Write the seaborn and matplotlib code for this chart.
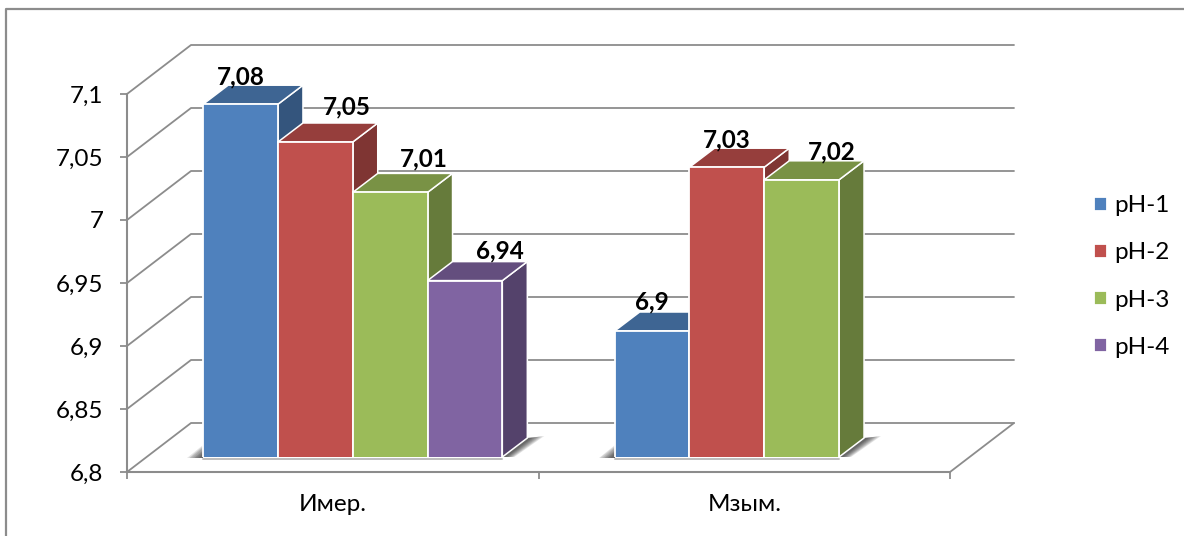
import matplotlib
matplotlib.use("Agg")
import numpy as np
import pandas as pd
import seaborn as sns
import matplotlib.pyplot as plt
from matplotlib.lines import Line2D
from matplotlib.patches import Polygon
from matplotlib.transforms import IdentityTransform

# Measurements by group and pH sample
group_names = ["Имер.", "Мзым."]
ph_names = ["pH-1", "pH-2", "pH-3", "pH-4"]
imer_values = [7.08, 7.05, 7.01, 6.94]
mzym_values = [6.9, 7.03, 7.02]
y_ticks = [6.8, 6.85, 6.9, 6.95, 7.0, 7.05, 7.1]
y_tick_labels = ["6,8", "6,85", "6,9", "6,95", "7", "7,05", "7,1"]
value_labels = ["7,08", "7,05", "7,01", "6,94", "6,9", "7,03", "7,02"]

ph_colors = ["#4F81BD", "#C0504D", "#9BBB59", "#8064A2"]
GRID = "#8C8C8C"
FONT = "Lato"
TEXT_SIZE = 17.5

W, H = 1184, 536
DPI = 100

# Pseudo-3D geometry, in pixels
WALL_DX, WALL_DY = 64, 49        # depth of the floor
PLANE_DX, PLANE_DY = 20, 15      # front face of the bars relative to the axis
BAR_DX, BAR_DY = 25, 19          # depth of a bar
# Hand placement of the value labels relative to each bar's top centre
label_dx = [0, 31, 34, 35, 0, 0, 30]
label_dy = [27, 35, 33, 30, 29, 27, 28]

sns.set_theme(style="white")
plt.rcParams["font.family"] = [FONT, "DejaVu Sans"]

rows = [(group_names[0], ph, v) for ph, v in zip(ph_names, imer_values)]
rows += [(group_names[1], ph, v) for ph, v in zip(ph_names, mzym_values)]
data = pd.DataFrame(rows, columns=["group", "ph", "value"])

fig = plt.figure(figsize=(W / DPI, H / DPI), dpi=DPI, facecolor="white")


def axes_box(left, top, right, bottom):
    return [left / W, 1 - bottom / H, (right - left) / W, (bottom - top) / H]


# Axis frame with ticks and labels
ax_frame = fig.add_axes(axes_box(127, 94, 950, 472))
ax_frame.set_xlim(-0.5, 1.5)
ax_frame.set_ylim(6.8, 7.1)
ax_frame.set_facecolor("none")
for side in ("top", "right"):
    ax_frame.spines[side].set_visible(False)
for side in ("left", "bottom"):
    ax_frame.spines[side].set_color(GRID)
    ax_frame.spines[side].set_linewidth(1.5)
ax_frame.set_yticks(y_ticks, y_tick_labels)
ax_frame.set_xticks([-0.5, 0.5, 1.5], ["", "", ""])
ax_frame.set_xticks([0, 1], group_names, minor=True)
ax_frame.tick_params(axis="both", which="major", length=5, width=1.3, color=GRID,
                     labelsize=TEXT_SIZE, labelcolor="black", left=True, bottom=True)
ax_frame.tick_params(axis="y", pad=12)
ax_frame.tick_params(axis="x", which="minor", length=0, pad=16, labelsize=TEXT_SIZE, labelcolor="black")

# Floor and back-wall lines, derived from the y scale
to_px = ax_frame.transData.transform
for tick in y_ticks:
    x0, y0 = to_px((-0.5, tick))
    x1, y1 = to_px((1.5, tick))
    xs = [x0, x0 + WALL_DX, x1 + WALL_DX]
    ys = [y0, y0 + WALL_DY, y0 + WALL_DY]
    ax_frame.add_line(Line2D(xs, ys, color=GRID, lw=1.3, transform=IdentityTransform(), clip_on=False))
x0, y0 = to_px((1.5, 6.8))
ax_frame.add_line(Line2D([x0, x0 + WALL_DX], [y0, y0 + WALL_DY], color=GRID, lw=1.3,
                         transform=IdentityTransform(), clip_on=False))

# Front faces of the bars
ax = fig.add_axes(axes_box(127 + PLANE_DX, 94 - PLANE_DY, 950 + PLANE_DX, 472 - PLANE_DY))
ax.set_facecolor("none")
sns.barplot(data=data, x="group", y="value", hue="ph", hue_order=ph_names, palette=ph_colors,
            saturation=1, width=0.727, gap=0, errorbar=None, order=group_names, ax=ax,
            edgecolor="white", linewidth=1.3)
ax.set_xlim(-0.5, 1.5)
ax.set_ylim(6.8, 7.1)
ax.set_xlabel("")
ax.set_ylabel("")
ax.set_xticks([])
ax.set_yticks([])
sns.despine(ax=ax, left=True, bottom=True)
fig.canvas.draw()

bars = [p for p in ax.patches if np.isfinite(p.get_height()) and p.get_height() > 0]
bars.sort(key=lambda p: p.get_x())
px = ax.transData.transform
ident = IdentityTransform()


def face(points, color, z):
    ax.add_patch(Polygon(points, closed=True, facecolor=color, edgecolor="white", linewidth=1.1,
                         transform=ident, clip_on=False, zorder=z))


def shade(color, factor):
    return tuple(c * factor for c in matplotlib.colors.to_rgb(color))


def soft_shadow(outer, inner, z, steps=8):
    # Stacked translucent polygons grow from the inner outline to the outer one
    outer, inner = np.asarray(outer, float), np.asarray(inner, float)
    for k in range(steps):
        t = (k + 1) / steps
        ax.add_patch(Polygon(inner + (outer - inner) * t, closed=True, facecolor="black",
                             edgecolor="none", alpha=0.1, transform=ident, clip_on=False, zorder=z))


# Shadows on the floor, one pair per group of bars
groups = [bars[:4], bars[4:]]
for group in groups:
    left_x, base = px((group[0].get_x(), 6.8))
    right_x, _ = px((group[-1].get_x() + group[-1].get_width(), 6.8))
    soft_shadow([(left_x - 16, base - 1), (left_x, base - 1), (left_x, base + 12)],
                [(left_x - 3, base - 1), (left_x, base - 1), (left_x, base + 3)], 2)
    soft_shadow([(right_x, base), (right_x + BAR_DX, base + BAR_DY), (right_x + BAR_DX + 17, base + BAR_DY + 2), (right_x + 12, base)],
                [(right_x, base), (right_x + BAR_DX, base + BAR_DY), (right_x + BAR_DX + 3, base + BAR_DY), (right_x + 3, base)], 2)
    ax.add_line(Line2D([left_x, right_x], [base - 1.5, base - 1.5], color="#BDBDBD", lw=1.4,
                       transform=ident, clip_on=False, zorder=3))

# Side and top faces, drawn left to right so each bar overlaps the previous one
for i, bar in enumerate(bars):
    xl = bar.get_x()
    xr = xl + bar.get_width()
    top = bar.get_height()
    color = bar.get_facecolor()
    (pl, pt), (pr, pb) = px((xl, top)), px((xr, 6.8))
    z = 4 + 3 * i
    face([(pr, pb), (pr + BAR_DX, pb + BAR_DY), (pr + BAR_DX, pt + BAR_DY), (pr, pt)], shade(color, 0.66), z)
    face([(pl, pt), (pr, pt), (pr + BAR_DX, pt + BAR_DY), (pl + BAR_DX, pt + BAR_DY)], shade(color, 0.78), z + 1)
    bar.set_zorder(z + 2)

# Value labels
for bar, text, dx, dy in zip(bars, value_labels, label_dx, label_dy):
    ax.annotate(text, (bar.get_x() + bar.get_width() / 2, bar.get_height()),
                xytext=(dx, dy), textcoords="offset pixels", ha="center", va="center",
                fontsize=TEXT_SIZE, fontweight="bold", color="black", zorder=50, annotation_clip=False)

# Legend
sns.move_legend(ax, loc="center left", bbox_to_anchor=(1094 / W, 1 - 276.5 / H),
                bbox_transform=fig.transFigure, title=None, frameon=False, fontsize=TEXT_SIZE,
                handlelength=0.55, handleheight=0.55, handletextpad=0.28, labelspacing=1.07,
                borderpad=0, borderaxespad=0)
legend = ax.get_legend()
legend.set_zorder(60)
for text in legend.get_texts():
    text.set_color("black")

# Outer chart frame, which runs off the top-right and bottom-left
frame_x, frame_y = 6 / W, 1 - 9 / H
fig.add_artist(Line2D([frame_x, frame_x, 1], [0, frame_y, frame_y], color=GRID, lw=1.6,
                      transform=fig.transFigure))

fig.savefig("out.png", dpi=DPI)
